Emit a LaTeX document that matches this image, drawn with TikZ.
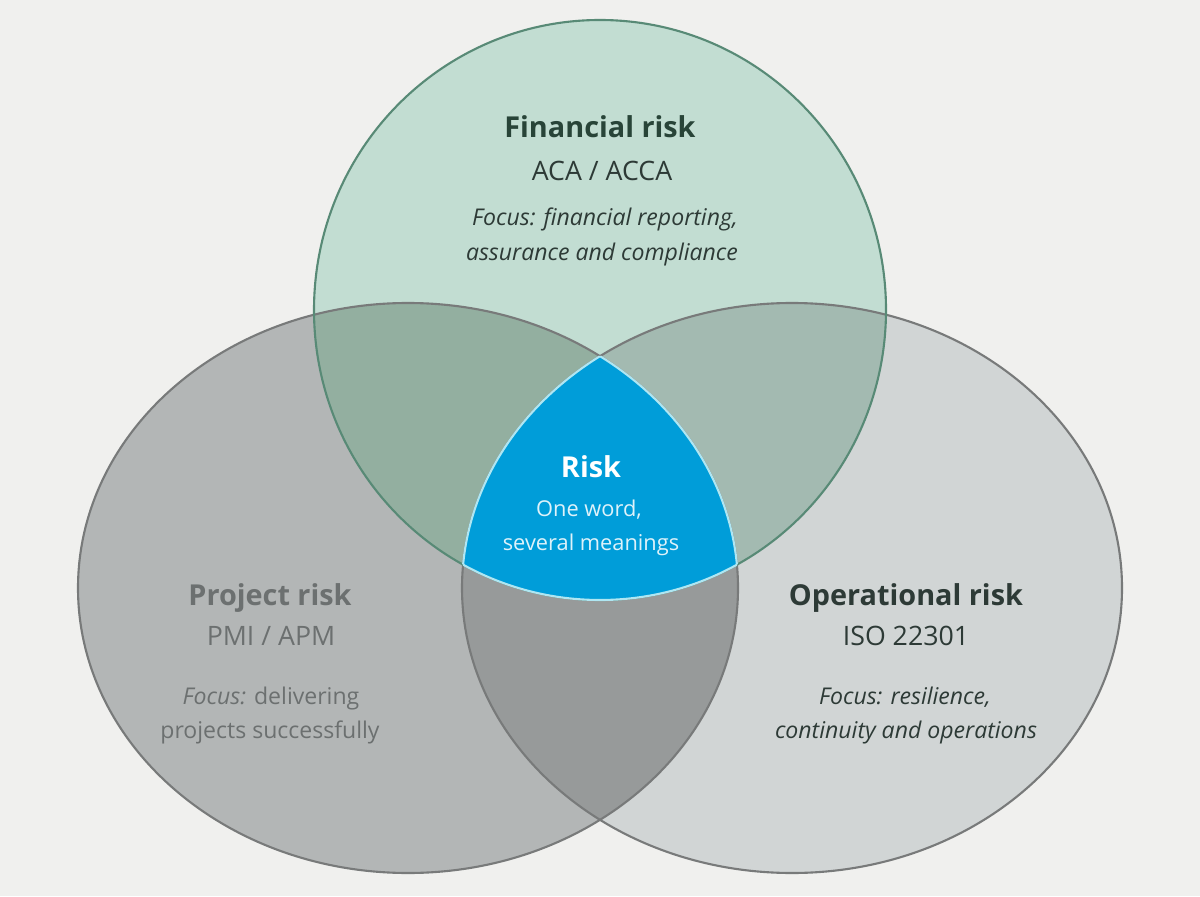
\documentclass[tikz,border=0pt]{standalone}
\usepackage{fontspec}
\setmainfont{Open Sans}
\usepackage{tikz}
\usetikzlibrary{positioning}
\definecolor{bgcol}{RGB}{240,240,238}
\definecolor{finfill}{RGB}{194,221,210}
\definecolor{finline}{RGB}{88,138,118}
\definecolor{projfill}{RGB}{179,182,182}
\definecolor{opfill}{RGB}{209,213,213}
\definecolor{greyline}{RGB}{120,122,122}
\definecolor{finproj}{RGB}{147,175,160}
\definecolor{finop}{RGB}{163,186,177}
\definecolor{projop}{RGB}{151,154,154}
\definecolor{riskblue}{RGB}{0,157,217}
\definecolor{riskedge}{RGB}{175,230,242}
\definecolor{riskfaint}{RGB}{222,242,250}
\definecolor{darkgreen}{RGB}{40,68,56}
\definecolor{darktext}{RGB}{45,58,54}
\definecolor{greytext}{RGB}{108,112,112}

% the three sets
\def\fincircle{(600,586) ellipse [x radius=286, y radius=290]}
\def\projcircle{(408,308) ellipse [x radius=330, y radius=285]}
\def\opcircle{(792,308) ellipse [x radius=330, y radius=285]}

\begin{document}
\begin{tikzpicture}[x=0.025cm, y=0.025cm,
    title/.style={anchor=base, font=\fontsize{20.5}{24}\selectfont\bfseries},
    sub/.style={anchor=base, font=\fontsize{19}{22}\selectfont},
    focus/.style={anchor=base, font=\fontsize{16.4}{19}\selectfont},
    riskline/.style={anchor=base, font=\fontsize{15.5}{18}\selectfont},
    edge/.style={line width=1.5pt}]

\fill[bgcol] (0,0) rectangle (1200,896);

% base fills
\fill[projfill] \projcircle;
\fill[opfill]   \opcircle;
\fill[finfill]  \fincircle;

% pairwise overlaps
\begin{scope}
  \clip \fincircle;
  \fill[finproj] \projcircle;
\end{scope}
\begin{scope}
  \clip \fincircle;
  \fill[finop] \opcircle;
\end{scope}
\begin{scope}
  \clip \projcircle;
  \fill[projop] \opcircle;
\end{scope}

% outlines
\draw[edge, greyline] \projcircle;
\draw[edge, greyline] \opcircle;
\draw[edge, finline]  \fincircle;

% centre: all three
\begin{scope}
  \clip \fincircle;
  \clip \projcircle;
  \fill[riskblue] \opcircle;
  \draw[edge, riskedge] \opcircle;
\end{scope}
\begin{scope}
  \clip \fincircle;
  \clip \opcircle;
  \draw[edge, riskedge] \projcircle;
\end{scope}
\begin{scope}
  \clip \projcircle;
  \clip \opcircle;
  \draw[edge, riskedge] \fincircle;
\end{scope}

% labels
\node (fintitle) [title, darkgreen] at (600,758) {Financial risk};
\node (finsub)   [sub, darktext]    at (602,715) {ACA / ACCA};
\node (finfoc1)  [focus, darktext]  at (605,670) {\itshape Focus: financial reporting,};
\node (finfoc2)  [focus, darktext]  at (602,635) {\itshape assurance and compliance};

\node (risktitle) [title, white]        at (591,419) {Risk};
\node (risksub1)  [riskline, riskfaint] at (589,380) {One word,};
\node (risksub2)  [riskline, riskfaint] at (591,346) {several meanings};

\node (projtitle) [title, greytext] at (270,291) {Project risk};
\node (projsub)   [sub, greytext]   at (271,251) {PMI / APM};
\node (projfoc1)  [focus, greytext] at (271,192) {\textit{Focus:} delivering};
\node (projfoc2)  [focus, greytext] at (270,158) {projects successfully};

\node (optitle) [title, darktext] at (906,291) {Operational risk};
\node (opsub)   [sub, darktext]   at (906,251) {ISO 22301};
\node (opfoc1)  [focus, darktext] at (905,192) {\itshape Focus: resilience,};
\node (opfoc2)  [focus, darktext] at (906,158) {\itshape continuity and operations};

\end{tikzpicture}
\end{document}
